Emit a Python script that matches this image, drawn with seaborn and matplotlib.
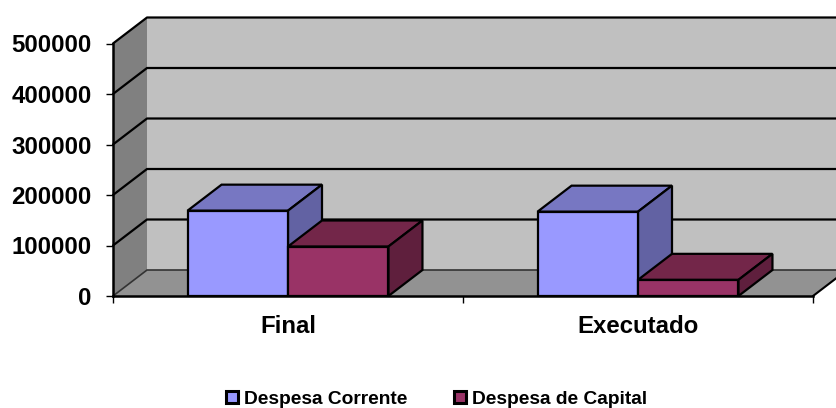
import pandas as pd
import seaborn as sns
import matplotlib.pyplot as plt
from matplotlib.patches import Polygon

# --- Data ---
categories = ["Final", "Executado"]
despesa_corrente = [169000, 167000]
despesa_capital = [98000, 32000]
y_ticks = [0, 100000, 200000, 300000, 400000, 500000]

# --- Settings ---
front_colors = ["#9999FF", "#993366"]
top_colors = ["#7777C2", "#732649"]
side_colors = ["#6262A3", "#5F1F3D"]
depth_x = 34 / 350
depth_y = 26 / 252.5 * 500000

sns.set_style("white")
plt.rcParams["font.family"] = ["Liberation Sans", "DejaVu Sans"]
plt.rcParams["font.weight"] = "bold"
plt.rcParams["text.color"] = "black"
plt.rcParams["xtick.labelcolor"] = "black"
plt.rcParams["ytick.labelcolor"] = "black"

df = pd.DataFrame({
    "categoria": categories * 2,
    "valor": despesa_corrente + despesa_capital,
    "serie": ["Despesa Corrente"] * 2 + ["Despesa de Capital"] * 2,
})

fig = plt.figure(figsize=(8.37, 4.08), dpi=100)
ax = fig.add_axes([113 / 837, 112 / 408, 700 / 837, 252.5 / 408])
ax.patch.set_alpha(0)

sns.barplot(
    data=df, x="categoria", y="valor", hue="serie", palette=front_colors,
    width=0.574, gap=0, edgecolor="black", linewidth=1.6, saturation=1,
    legend=True, ax=ax,
)
ax.set_xlim(-0.5, 1.5)
ax.set_ylim(0, 500000)


def add_face(points, color, z):
    ax.add_patch(Polygon(points, closed=True, facecolor=color, edgecolor="black",
                         linewidth=1.6, zorder=z, clip_on=False))


# walls and floor
x0, x1 = ax.get_xlim()
top = y_ticks[-1]
ax.add_patch(Polygon(
    [(x0 + depth_x, depth_y), (x1 + depth_x, depth_y),
     (x1 + depth_x, top + depth_y), (x0 + depth_x, top + depth_y)],
    closed=True, facecolor="#C0C0C0", edgecolor="none", zorder=0.1, clip_on=False))
ax.add_patch(Polygon(
    [(x0, 0), (x0 + depth_x, depth_y), (x0 + depth_x, top + depth_y), (x0, top)],
    closed=True, facecolor="#808080", edgecolor="none", zorder=0.2, clip_on=False))
ax.add_patch(Polygon(
    [(x0, 0), (x1, 0), (x1 + depth_x, depth_y), (x0 + depth_x, depth_y)],
    closed=True, facecolor="#929292", edgecolor="none", zorder=0.2, clip_on=False))

# gridlines run along the left wall then the back wall
for val in y_ticks:
    ax.plot([x0, x0 + depth_x, x1 + depth_x], [val, val + depth_y, val + depth_y],
            color="#333333" if val == 0 else "black", lw=1.2 if val == 0 else 1.6,
            zorder=0.5, clip_on=False)
ax.plot([x1, x1 + depth_x], [0, depth_y], color="black", lw=1.5, zorder=0.5, clip_on=False)

# 3D faces of the bars, built from the bars seaborn drew
for i, container in enumerate(ax.containers):
    for bar in container:
        xa, xb = bar.get_x(), bar.get_x() + bar.get_width()
        h = bar.get_height()
        add_face([(xa, h), (xb, h), (xb + depth_x, h + depth_y), (xa + depth_x, h + depth_y)],
                 top_colors[i], 1.2 + i / 10)
        add_face([(xb, 0), (xb + depth_x, depth_y), (xb + depth_x, h + depth_y), (xb, h)],
                 side_colors[i], 1.2 + i / 10)
        bar.set_zorder(2)

ax.set_yticks(y_ticks)
ax.set_xticks([-0.5, 0.5, 1.5], labels=[])
ax.set_xticks([0, 1], labels=categories, minor=True)
ax.tick_params(axis="y", which="major", length=5, width=1, color="black", left=True,
               pad=10.5, labelsize=17.3)
ax.tick_params(axis="x", which="major", length=5, width=1, color="black", bottom=True)
ax.tick_params(axis="x", which="minor", length=0, pad=14, labelsize=17.3)
ax.set_xlabel("")
ax.set_ylabel("")
for side in ["top", "right"]:
    ax.spines[side].set_visible(False)
for side in ["left", "bottom"]:
    ax.spines[side].set_color("black")
    ax.spines[side].set_linewidth(1.8)
    ax.spines[side].set_zorder(3)

handles, labels = ax.get_legend_handles_labels()
ax.get_legend().remove()
leg = fig.legend(
    handles, labels, loc="center", bbox_to_anchor=(436.5 / 837, 1 - 399 / 408), ncol=2,
    frameon=False, fontsize=13.8, handlelength=0.62, handleheight=0.62,
    handletextpad=0.32, columnspacing=2.43,
)
for handle in leg.get_patches():
    handle.set_linewidth(2.2)

fig.savefig("out.png", dpi=100)
